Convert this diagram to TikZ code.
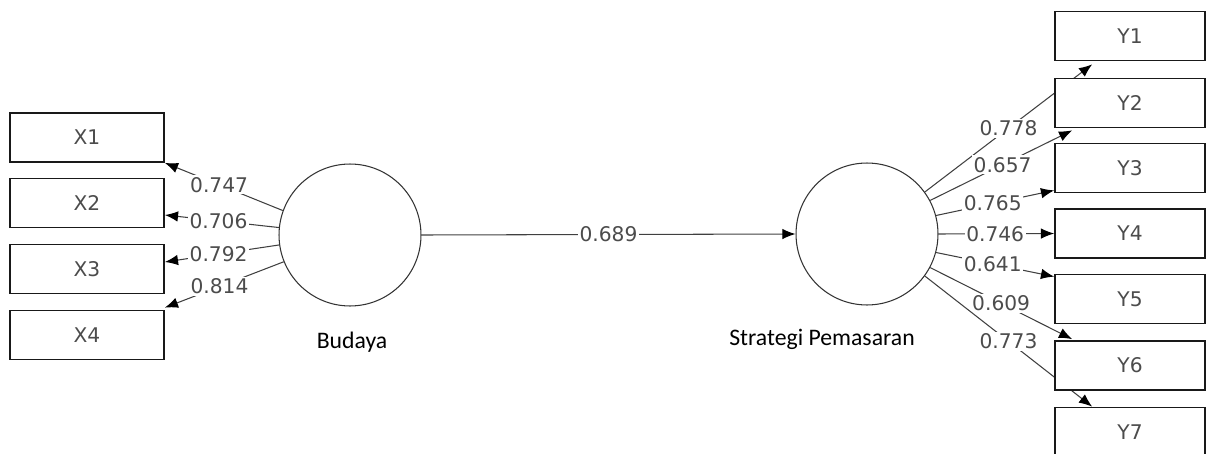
\documentclass[tikz,border=0pt]{standalone}
\usepackage{fontspec}
\setmainfont{Carlito}
\newfontfamily\plsfont{DejaVu Sans}
\usepackage{tikz}
\usetikzlibrary{calc}
\usetikzlibrary{backgrounds}
\usetikzlibrary{arrows.meta}
\usetikzlibrary{positioning}

\tikzset{
  indbox/.style={draw=black!90, line width=1pt, fill=white, minimum width=3.08cm, minimum height=0.98cm, inner sep=0pt, font=\plsfont\fontsize{11.5}{13}\selectfont, text=black!70},
  latent/.style={circle, draw=black!80, line width=0.6pt, fill=white, minimum size=2.84cm, inner sep=0pt},
  load/.style={draw=black!75, line width=0.6pt, -{Latex[length=7.5pt,width=6pt,color=black]}},
  coef/.style={fill=white, inner sep=1pt, font=\plsfont\fontsize{11.5}{13}\selectfont, text=black!70},
  lvname/.style={font=\fontsize{13.5}{16}\selectfont}
}

\begin{document}
\begin{tikzpicture}[x=0.02cm, y=-0.02cm]
  \useasboundingbox (0,0) rectangle (1206,453);
  % latent variables
  \node[latent] (bud) at (350,235) {};
  \node[latent] (sp) at (867,234) {};
  \node[lvname] (lbud) at (352,342) {Budaya};
  \node[lvname] (lsp) at (822,339) {Strategi Pemasaran};
  % indicators X
  \node[indbox] (x1) at (87,137.5) {X1};
  \node[indbox] (x2) at (87,203) {X2};
  \node[indbox] (x3) at (87,269) {X3};
  \node[indbox] (x4) at (87,335) {X4};
  % indicators Y
  \node[indbox, minimum width=3cm] (y1) at (1130,36) {Y1};
  \node[indbox, minimum width=3cm] (y2) at (1130,103) {Y2};
  \node[indbox, minimum width=3cm] (y3) at (1130,168) {Y3};
  \node[indbox, minimum width=3cm] (y4) at (1130,233.5) {Y4};
  \node[indbox, minimum width=3cm] (y5) at (1130,299) {Y5};
  \node[indbox, minimum width=3cm] (y6) at (1130,365.5) {Y6};
  \node[indbox, minimum width=3cm] (y7) at (1130,432) {Y7};
  % paths
  \begin{scope}[on background layer]
    \draw[load] (bud.east) -- (sp.west) node[coef, midway] (cbs) {0.689};
    \draw[load] (bud.160) -- (x1.south east) node[coef, pos=0.54] (cx1) {0.747};
    \draw[load] (bud.174) -- ($(x2.east)+(0,12)$) node[coef, pos=0.53] (cx2) {0.706};
    \draw[load] (bud.188) -- ($(x3.east)+(0,-7)$) node[coef, pos=0.53] (cx3) {0.792};
    \draw[load] (bud.202) -- ($(x4.north east)+(0,-2)$) node[coef, pos=0.54] (cx4) {0.814};
    \draw[load] (sp.36) -- ($(y1.south west)+(38,3)$) node[coef, pos=0.5] (cy1) {0.778};
    \draw[load] (sp.28) -- ($(y2.south west)+(18,2)$) node[coef, pos=0.51] (cy2) {0.657};
    \draw[load] (sp.15) -- ($(y3.south west)+(0,-3)$) node[coef, pos=0.48] (cy3) {0.765};
    \draw[load] (sp.east) -- (y4.west) node[coef, pos=0.49] (cy4) {0.746};
    \draw[load] (sp.-15) -- ($(y5.north west)+(0,3)$) node[coef, pos=0.48] (cy5) {0.641};
    \draw[load] (sp.-28) -- ($(y6.north west)+(18,-1)$) node[coef, pos=0.5] (cy6) {0.609};
    \draw[load] (sp.-36) -- ($(y7.north west)+(38,0)$) node[coef, pos=0.5] (cy7) {0.773};
  \end{scope}
\end{tikzpicture}
\end{document}
